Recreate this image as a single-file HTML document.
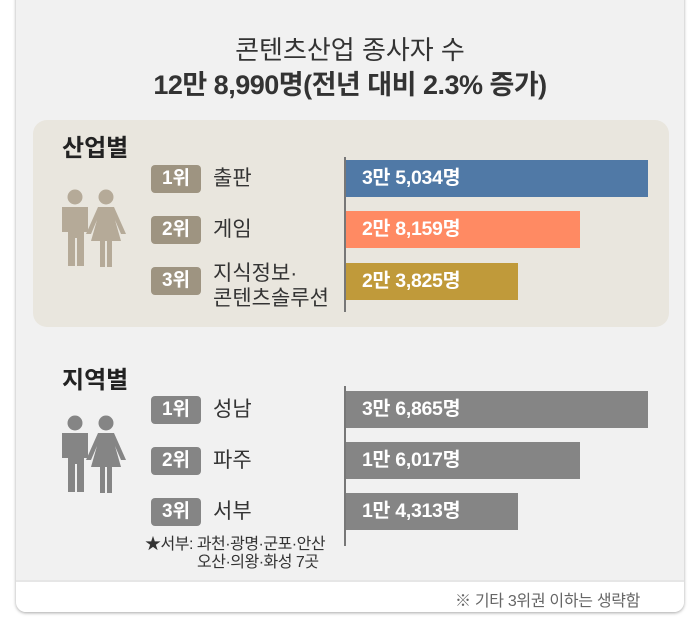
<!DOCTYPE html>
<html><head><meta charset="utf-8"><style>
*{margin:0;padding:0;box-sizing:border-box}
body{width:700px;height:630px;background:#fff;position:relative;overflow:hidden;font-family:"Liberation Sans","Noto Sans CJK KR",sans-serif}
.a{position:absolute;white-space:nowrap}
.card{left:16px;top:-5px;width:668px;height:617px;background:#f1f1f1;border-radius:0 0 10px 10px;box-shadow:0 1px 3px rgba(0,0,0,.35)}
.strip{left:16px;top:580px;width:668px;height:32px;background:#fff;border-top:2px solid #e6e6e6;border-radius:0 0 10px 10px}
.panel{left:33px;top:120px;width:636px;height:207px;background:#e9e6de;border-radius:14px}
.badge{width:50px;height:28px;border-radius:4px;color:#fff;font-weight:bold;font-size:19px;line-height:28px;text-align:center}
.lab{font-size:21px;color:#333;line-height:24px}
.bar{height:37px;color:#fff;font-weight:bold;font-size:19.5px;line-height:37px;padding-left:16px;letter-spacing:-0.3px}
.h{font-size:24px;font-weight:bold;color:#222}
</style></head><body>
<div class="a card"></div>
<div class="a strip"></div>
<div class="a" style="left:0;top:30px;width:700px;text-align:center;font-size:26px;color:#333">콘텐츠산업 종사자 수</div>
<div class="a" style="left:0;top:63px;width:700px;text-align:center;font-size:27px;font-weight:bold;color:#333;letter-spacing:-0.5px">12만 8,990명(전년 대비 2.3% 증가)</div>
<div class="a panel"></div>
<div class="a h" style="left:62px;top:128px">산업별</div>
<div class="a h" style="left:62px;top:360px">지역별</div>

<svg class="a" style="left:60px;top:189px" width="70" height="78" viewBox="0 0 70 78">
<g fill="#b5aa98"><circle cx="15" cy="8" r="7.5"/><path d="M2 18h26v25h-4v34h-7v-28h-2v28h-7v-34h-6z"/>
<circle cx="46" cy="8" r="7.5"/><path d="M38 18h16l12 27h-5l-6-14 6 21h-9v26h-5v-26h-2v26h-5v-26h-9l6-21-6 14h-5z"/></g></svg>
<svg class="a" style="left:60px;top:415px" width="70" height="78" viewBox="0 0 70 78">
<g fill="#858585"><circle cx="15" cy="8" r="7.5"/><path d="M2 18h26v25h-4v34h-7v-28h-2v28h-7v-34h-6z"/>
<circle cx="46" cy="8" r="7.5"/><path d="M38 18h16l12 27h-5l-6-14 6 21h-9v26h-5v-26h-2v26h-5v-26h-9l6-21-6 14h-5z"/></g></svg>

<div class="a badge" style="left:151px;top:165px;background:#9e9481">1위</div>
<div class="a badge" style="left:151px;top:216px;background:#9e9481">2위</div>
<div class="a badge" style="left:151px;top:267px;background:#9e9481">3위</div>
<div class="a lab" style="left:213px;top:167px">출판</div>
<div class="a lab" style="left:213px;top:218px">게임</div>
<div class="a lab" style="left:213px;top:261px;line-height:25px">지식정보·<br>콘텐츠솔루션</div>

<div class="a" style="left:344px;top:157px;width:2px;height:155px;background:#777"></div>
<div class="a bar" style="left:346px;top:160px;width:302px;background:#5079a6">3만 5,034명</div>
<div class="a bar" style="left:346px;top:211px;width:234px;background:#ff8a63">2만 8,159명</div>
<div class="a bar" style="left:346px;top:263px;width:172px;background:#c09a3a">2만 3,825명</div>

<div class="a badge" style="left:151px;top:396px;background:#858585">1위</div>
<div class="a badge" style="left:151px;top:447px;background:#858585">2위</div>
<div class="a badge" style="left:151px;top:498px;background:#858585">3위</div>
<div class="a lab" style="left:213px;top:398px">성남</div>
<div class="a lab" style="left:213px;top:449px">파주</div>
<div class="a lab" style="left:213px;top:500px">서부</div>
<div class="a" style="left:145px;top:536px;font-size:16px;color:#333;line-height:18px;letter-spacing:-0.5px">★서부: 과천·광명·군포·안산<br><span style="padding-left:52px">오산·의왕·화성 7곳</span></div>

<div class="a" style="left:344px;top:386px;width:2px;height:160px;background:#777"></div>
<div class="a bar" style="left:346px;top:391px;width:302px;background:#858585">3만 6,865명</div>
<div class="a bar" style="left:346px;top:442px;width:234px;background:#858585">1만 6,017명</div>
<div class="a bar" style="left:346px;top:493px;width:172px;background:#858585">1만 4,313명</div>

<div class="a" style="left:455px;top:587px;font-size:16px;color:#666;letter-spacing:-0.3px">※ 기타 3위권 이하는 생략함</div>
</body></html>
